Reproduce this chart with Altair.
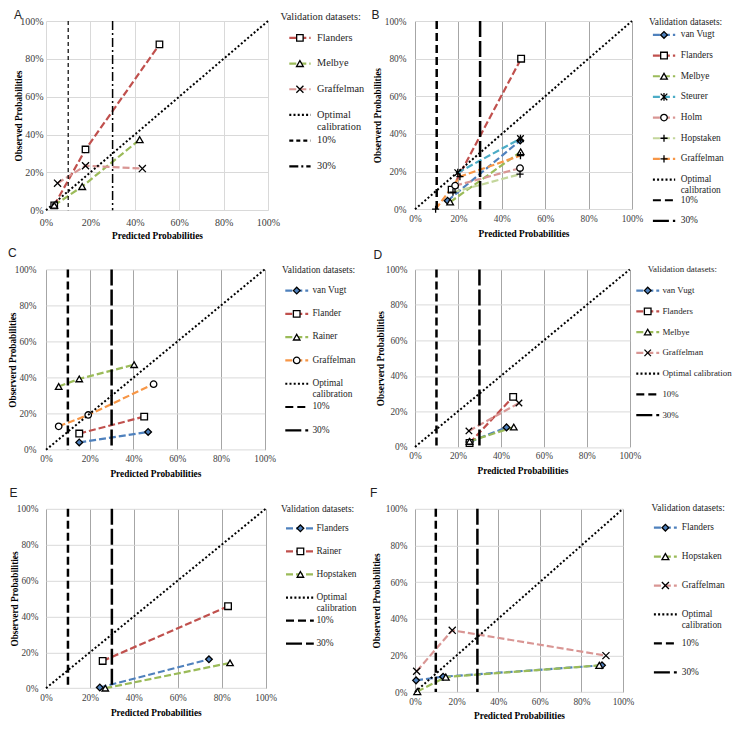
import altair as alt
import pandas as pd

SERIF = "Liberation Serif, Times New Roman, serif"
SANS = "Liberation Sans, Arial, sans-serif"

# ---------------- shared labels ----------------
TICKS = [0, 20, 40, 60, 80, 100]
DIAGONAL = [0, 100]
CUTOFFS = [10, 30]
LEGEND_TITLE = "Validation datasets:"
X_TITLE = "Predicted Probabilities"
REF_KEYS = ["Optimal calibration", "10%", "30%"]

# ---------------- panel A ----------------
A_series = ["Flanders", "Melbye", "Graffelman"]
A_pred = [[3.7, 17.8, 51.1], [3.7, 16.3, 42.2], [5.2, 17.8, 43.4]]
A_obs = [[2.6, 32.1, 87.6], [2.6, 12.5, 37.3], [14.3, 23.5, 22.0]]

# ---------------- panel B ----------------
B_series = ["van Vugt", "Flanders", "Melbye", "Steurer", "Holm", "Hopstaken", "Graffelman"]
B_pred = [[15.0, 48.5], [16.9, 48.9], [16.2, 48.7], [19.7, 48.6], [18.5, 48.4], [17.5, 48.4], [9.5, 20.7, 48.6]]
B_obs = [[4.5, 36.5], [10.4, 80.0], [3.8, 30.5], [19.4, 37.5], [12.5, 21.8], [9.0, 18.6], [0.0, 17.3, 28.5]]

# ---------------- panel C ----------------
C_series = ["van Vugt", "Flander", "Rainer", "Graffelman"]
C_pred = [[15.2, 46.7], [15.2, 44.9], [5.8, 15.2, 40.3], [5.8, 19.3, 49.2]]
C_obs = [[4.1, 9.9], [9.0, 18.4], [35.1, 39.3, 47.2], [13.0, 19.3, 36.4]]

# ---------------- panel D ----------------
D_series = ["van Vugt", "Flanders", "Melbye", "Graffelman"]
D_pred = [[25.4, 42.6], [25.4, 45.7], [25.4, 46.0], [25.1, 48.4]]
D_obs = [[2.8, 11.0], [2.2, 28.2], [3.1, 11.2], [9.0, 24.7]]

# ---------------- panel E ----------------
E_series = ["Flanders", "Rainer", "Hopstaken"]
E_pred = [[24.5, 74.2], [25.8, 82.9], [27.0, 83.8]]
E_obs = [[0.4, 16.1], [15.2, 45.7], [0.0, 14.1]]

# ---------------- panel F ----------------
F_series = ["Flanders", "Hopstaken", "Graffelman"]
F_pred = [[0.5, 13.5, 89.9], [1.1, 14.8, 88.6], [0.8, 17.9, 91.8]]
F_obs = [[6.4, 8.4, 14.6], [0.3, 8.2, 14.6], [11.4, 33.7, 19.9]]

# ---------------- styles ----------------
BLUE, RED, GREEN, AQUA, ORANGE, PINK, LGREEN = (
    "#4F81BD", "#C0504D", "#9BBB59", "#4BACC6", "#F79646", "#D99694", "#C3D69B")
SHAPE_PATH = {
    "x": "M-1,-1L1,1M-1,1L1,-1",
    "plus": "M0,-1.1L0,1.1M-1.1,0L1.1,0",
    "star": "M-1,-1L1,1M-1,1L1,-1M0,-1.2L0,1.2",
}
SHAPE_SIZE = {"x": 80, "plus": 65, "star": 70, "square": 42, "triangle-up": 50,
              "diamond": 45, "circle": 50}
SERIES_DASH = [7, 3]
DOT_DASH = [2, 2.2]
THICK10, THICK30 = [8, 4], [16, 4]

PANELS = {
    "A": dict(series=A_series, pred=A_pred, obs=A_obs, colors=[RED, GREEN, PINK],
              shapes=["square", "triangle-up", "x"], w=222, h=189.2, lfs=10, tfs=9.3,
              ylp=3, xlp=7, xty=24.8, ytitle="Observed Probabilities", ytx=-27.3,
              vgrid="#d9d9d9", hgrid="#d9d9d9", lx=-32, ly=-6.5,
              d10=[4, 3], w10=1.2, d30=[9, 3, 2, 3], w30=1.5,
              lw=147, ttx=12.5, tty=-3.9, ly0=16.9, ly1=145.3, l0=21.3, l1=42.6, mx=31.9,
              tx=49, fs=10.3, lh=12, opt="Optimal\ncalibration"),
    "B": dict(series=B_series, pred=B_pred, obs=B_obs,
              colors=[BLUE, RED, GREEN, AQUA, PINK, LGREEN, ORANGE],
              shapes=["diamond", "square", "triangle-up", "star", "circle", "plus", "plus"],
              w=217, h=188.2, lfs=9.3, tfs=9.3, ylp=9, xlp=5, xty=24.3,
              ytitle="Observerd Probabilities", ytx=-37.5, vgrid="#a6a6a6", hgrid="#d9d9d9",
              lx=-43.5, ly=-6.5, d10=THICK10, w10=2.5, d30=THICK30, w30=2.5, lw=85,
              ttx=17, tty=1, ly0=13.9, ly1=199.9, l0=20.9, l1=43.2, mx=32, tx=48.7,
              fs=9.4, lh=11.4, opt="Optimal\ncalibration"),
    "C": dict(series=C_series, pred=C_pred, obs=C_obs, colors=[BLUE, RED, GREEN, ORANGE],
              shapes=["diamond", "square", "triangle-up", "circle"], w=218.7, h=180.4,
              lfs=9.3, tfs=9.3, ylp=10, xlp=5, xty=23.8, ytitle="Observerd Probabilities",
              ytx=-33.3, vgrid="#a6a6a6", hgrid="#d9d9d9", lx=-38, ly=-16.6,
              d10=THICK10, w10=2.5, d30=THICK30, w30=2.5, lw=145.3, ttx=14, tty=1,
              ly0=21.2, ly1=160.9, l0=17.3, l1=40.2, mx=28.7, tx=44.4, fs=9.4, lh=11.4,
              opt="Optimal\ncalibration"),
    "D": dict(series=D_series, pred=D_pred, obs=D_obs, colors=[BLUE, RED, GREEN, PINK],
              shapes=["diamond", "square", "triangle-up", "x"], w=214.8, h=177.5, lfs=9.3,
              tfs=9.3, ylp=8, xlp=5, xty=23.7, ytitle="Observerd Probabilities", ytx=-34.6,
              vgrid="#a6a6a6", hgrid="#d9d9d9", lx=-41.5, ly=-14.9, d10=THICK10, w10=2.5,
              d30=THICK30, w30=2.5, lw=80, ttx=15.7, tty=0, ly0=21.2, ly1=145.7, l0=4.3,
              l1=27.2, mx=15.7, tx=30.4, fs=8.9, lh=11.4, opt="Optimal calibration"),
    "E": dict(series=E_series, pred=E_pred, obs=E_obs, colors=[BLUE, RED, GREEN],
              shapes=["diamond", "square", "triangle-up"], w=219.6, h=179.4, lfs=9.3,
              tfs=9.3, ylp=8, xlp=5, xty=24.6, ytitle="Observerd Probabilities", ytx=-31.7,
              vgrid="#a6a6a6", hgrid="#d9d9d9", lx=-36.4, ly=-15.9, d10=THICK10, w10=2.5,
              d30=THICK30, w30=2.5, lw=145, ttx=13, tty=0, ly0=19.5, ly1=134.9, l0=18,
              l1=45.8, mx=32.4, tx=48.4, fs=9.4, lh=11.4, opt="Optimal\ncalibration"),
    "F": dict(series=F_series, pred=F_pred, obs=F_obs, colors=[BLUE, GREEN, PINK],
              shapes=["diamond", "triangle-up", "x"], w=208, h=183.3, lfs=9.3, tfs=9.3,
              ylp=8, xlp=5, xty=23.2, ytitle="Observerd Probabilities", ytx=-38.5,
              vgrid="#a6a6a6", hgrid="#d9d9d9", lx=-45, ly=-15.6, d10=THICK10, w10=2.5,
              d30=THICK30, w30=2.5, lw=80, ttx=19.6, tty=-0.6, ly0=18.9, ly1=163.5,
              l0=21.9, l1=44.8, mx=33.4, tx=49.7, fs=9.4, lh=11.4,
              opt="Optimal\ncalibration"),
}


def marker_style(P):
    shapes = [SHAPE_PATH.get(s, s) for s in P["shapes"]]
    fills = []
    for s, c in zip(P["shapes"], P["colors"]):
        if s == "diamond":
            fills.append(c)
        elif s in SHAPE_PATH:
            fills.append("transparent")
        else:
            fills.append("white")
    sizes = [SHAPE_SIZE[s] for s in P["shapes"]]
    names = P["series"]
    return dict(
        shape=alt.Shape("series:N", scale=alt.Scale(domain=names, range=shapes), legend=None),
        fill=alt.Fill("series:N", scale=alt.Scale(domain=names, range=fills), legend=None),
        size=alt.Size("series:O", scale=alt.Scale(domain=names, range=sizes), legend=None),
        stroke=alt.value("black"),
    )


def make_plot(letter, P):
    rows = []
    for name, xs, ys in zip(P["series"], P["pred"], P["obs"]):
        for i, (xv, yv) in enumerate(zip(xs, ys)):
            rows.append({"series": name, "pred": xv, "obs": yv, "idx": i})
    df = pd.DataFrame(rows)
    w, h = P["w"], P["h"]
    common = dict(values=TICKS, labelExpr="datum.value + '%'", labelFont=SERIF,
                  labelFontSize=P["lfs"], labelColor="#404040", labelFlush=False,
                  labelOverlap=False, ticks=False, domain=False, titleFont=SERIF,
                  titleFontSize=P["tfs"], titleFontWeight="bold", titleColor="#000000",
                  titleBaseline="middle", titleAlign="center")
    xax = alt.Axis(title=X_TITLE, gridColor=P["vgrid"], labelPadding=P["xlp"],
                   titleX=w / 2, titleY=P["xty"], **common)
    yax = alt.Axis(title=P["ytitle"], gridColor=P["hgrid"], labelPadding=P["ylp"],
                   titleX=P["ytx"], titleY=h / 2, titleAngle=270, **common)
    sc = alt.Scale(domain=[0, 100], nice=False, zero=False)
    X = alt.X("pred:Q", scale=sc, axis=xax)
    Y = alt.Y("obs:Q", scale=sc, axis=yax)
    color = alt.Color("series:N", scale=alt.Scale(domain=P["series"], range=P["colors"]),
                      legend=None)
    lines = alt.Chart(df).mark_line(strokeDash=SERIES_DASH, strokeWidth=2.2).encode(
        x=X, y=Y, color=color, order="idx:Q")
    pts = alt.Chart(df).mark_point(filled=False, opacity=1, strokeWidth=1.3).encode(
        x=X, y=Y, **marker_style(P))
    diag = alt.Chart(pd.DataFrame({"pred": DIAGONAL, "obs": DIAGONAL})).mark_line(
        color="black", strokeDash=DOT_DASH, strokeWidth=2).encode(x=X, y=Y)
    r10 = alt.Chart(pd.DataFrame({"pred": [CUTOFFS[0]]})).mark_rule(
        color="black", strokeDash=P["d10"], strokeWidth=P["w10"]).encode(x=X)
    r30 = alt.Chart(pd.DataFrame({"pred": [CUTOFFS[1]]})).mark_rule(
        color="black", strokeDash=P["d30"], strokeWidth=P["w30"]).encode(x=X)
    lab = alt.Chart(pd.DataFrame({"panel": [letter]})).mark_text(
        font=SANS, fontSize=12, align="left", baseline="middle", color="#222222").encode(
        x=alt.value(P["lx"]), y=alt.value(P["ly"]), text="panel:N")
    return alt.layer(lines, pts, diag, r10, r30, lab).properties(width=w, height=h)


def make_legend(P):
    n = len(P["series"])
    keys = P["series"] + REF_KEYS
    labels = P["series"] + [P["opt"], REF_KEYS[1], REF_KEYS[2]]
    colors = P["colors"] + ["black", "black", "black"]
    dashes = [SERIES_DASH] * n + [DOT_DASH, P["d10"], P["d30"]]
    widths = [2.2] * n + [2, P["w10"], P["w30"]]
    df = pd.DataFrame({"key": keys, "label": labels})
    ydom = alt.Y("key:N", scale=alt.Scale(type="point", domain=keys,
                                          range=[P["ly0"], P["ly1"]], padding=0), axis=None)
    rules = alt.Chart(df).mark_rule().encode(
        x=alt.value(P["l0"]), x2=alt.value(P["l1"]), y=ydom,
        color=alt.Color("key:N", scale=alt.Scale(domain=keys, range=colors), legend=None),
        strokeDash=alt.StrokeDash("key:N", scale=alt.Scale(domain=keys, range=dashes),
                                  legend=None),
        strokeWidth=alt.StrokeWidth("key:O", scale=alt.Scale(domain=keys, range=widths),
                                    legend=None))
    sdf = pd.DataFrame({"key": P["series"], "series": P["series"]})
    marks = alt.Chart(sdf).mark_point(filled=False, opacity=1, strokeWidth=1.3).encode(
        x=alt.value(P["mx"]), y=ydom, **marker_style(P))
    fs = P["fs"]
    texts = alt.Chart(df).mark_text(
        align="left", baseline="top", dy=-0.5 * fs, lineBreak="\n", lineHeight=P["lh"],
        font=SERIF, fontSize=fs, color="#262626").encode(
        x=alt.value(P["tx"]), y=ydom, text="label:N")
    title = alt.Chart(pd.DataFrame({"t": [LEGEND_TITLE]})).mark_text(
        align="left", baseline="middle", font=SERIF, fontSize=fs, color="#262626").encode(
        x=alt.value(P["ttx"]), y=alt.value(P["tty"]), text="t:N")
    return alt.layer(rules, marks, texts, title).properties(width=P["lw"], height=P["h"])


def spacer(wd):
    return alt.Chart(pd.DataFrame({"v": [0]})).mark_point(opacity=0, size=1).encode(
        x=alt.value(0), y=alt.value(0)).properties(width=wd, height=10)


RES = dict(color="independent", shape="independent", fill="independent",
           size="independent", strokeDash="independent", strokeWidth="independent",
           x="independent", y="independent")

cells = [
    spacer(1), make_plot("A", PANELS["A"]), make_legend(PANELS["A"]),
    make_plot("B", PANELS["B"]), make_legend(PANELS["B"]),
    spacer(7), make_plot("C", PANELS["C"]), make_legend(PANELS["C"]),
    make_plot("D", PANELS["D"]), make_legend(PANELS["D"]),
    spacer(5.4), make_plot("E", PANELS["E"]), make_legend(PANELS["E"]),
    make_plot("F", PANELS["F"]), make_legend(PANELS["F"]),
]

chart = alt.concat(*cells, columns=5, spacing={"row": 58.4, "column": 0}, bounds="flush",
                   align={"row": "each", "column": "none"}).resolve_scale(**RES)
chart = chart.properties(
    padding={"left": 0, "top": 0, "right": 0, "bottom": 0},
    autosize=alt.AutoSizeParams(type="pad"),
).configure_view(stroke=None)

chart.save("out.html", embed_options={"renderer": "svg", "actions": False})
